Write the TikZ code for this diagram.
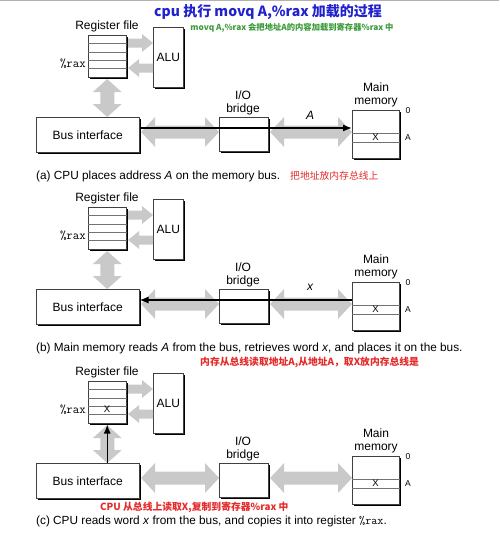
\documentclass[tikz,border=0pt]{standalone}
\usepackage{fontspec}
\setmainfont{Liberation Sans}
\newfontfamily\cjk{Noto Sans CJK SC}
\usetikzlibrary{arrows.meta,calc}
\definecolor{gfill}{HTML}{C9C9C9}
\definecolor{ttlblue}{HTML}{2222CC}
\definecolor{grn}{HTML}{3A9A3A}
\definecolor{rd}{HTML}{E52A2A}
\tikzset{
 box/.style={draw=black!75, line width=0.5pt, fill=white, inner sep=0pt, anchor=north west, font=\fontsize{12}{13}\selectfont},
 lbl/.style={inner sep=0pt, align=center, font=\fontsize{12}{13}\selectfont},
 smalllbl/.style={inner sep=0pt, font=\fontsize{8.5}{9}\selectfont},
 caption/.style={inner sep=0pt, anchor=west, font=\fontsize{11.8}{13}\selectfont},
 redtxt/.style={inner sep=0pt, anchor=west, text=rd, font=\fontsize{9.8}{11}\cjk\bfseries},
 rowline/.style={draw=black!55, line width=0.5pt},
 garrow/.style={fill=gfill, draw=none},
 blk/.style={draw=black, line width=1.3pt, -{Latex[length=9pt,width=7pt]}},
}
% horizontal double arrow between two named points on one row
\newcommand\ghd[2]{\path[garrow] (#1) -- ($(#1)+(14,-15)$) -- ($(#1)+(14,-6.5)$) -- ($(#2)+(-14,-6.5)$) -- ($(#2)+(-14,-15)$) -- (#2) -- ($(#2)+(-14,15)$) -- ($(#2)+(-14,6.5)$) -- ($(#1)+(14,6.5)$) -- ($(#1)+(14,15)$) -- cycle;}
% vertical double arrow, #1 top point, #2 bottom point
\newcommand\gvd[2]{\path[garrow] (#1) -- ($(#1)+(-14.5,13)$) -- ($(#1)+(-7,13)$) -- ($(#2)+(-7,-13)$) -- ($(#2)+(-14.5,-13)$) -- (#2) -- ($(#2)+(14.5,-13)$) -- ($(#2)+(7,-13)$) -- ($(#1)+(7,13)$) -- ($(#1)+(14.5,13)$) -- cycle;}
% single horizontal arrow from #1 (tail) to #2 (tip); #3 = +1 right, -1 left
\newcommand\ghs[3]{\path[garrow] (#1) -- ($(#1)+(0,-4.5)$) -- ($(#2)+(-11*#3,-4.5)$) -- ($(#2)+(-11*#3,-9)$) -- (#2) -- ($(#2)+(-11*#3,9)$) -- ($(#2)+(-11*#3,4.5)$) -- ($(#1)+(0,4.5)$) -- cycle;}
\newcommand\dsh[1]{\draw[line width=1.6pt,black] ([xshift=0.8pt,yshift=-2pt]#1.north east) -- ([xshift=0.8pt,yshift=-0.8pt]#1.south east) -- ([xshift=2pt,yshift=-0.8pt]#1.south west);}
\newcommand\basepanel[2]{%
\begin{scope}[yshift=-#1pt]
 \node[lbl] (rf#2) at (107,26) {Register file};
 \node[box, minimum width=38pt, minimum height=42pt] (reg#2) at (88,35) {};
 \foreach \k in {1,...,4}{\draw[rowline] ([yshift=-\k*8.4pt]reg#2.north west) -- ([yshift=-\k*8.4pt]reg#2.north east);}
 \node[anchor=east, inner sep=0pt, font=\fontsize{12.5}{13}\ttfamily] (rax#2) at (86,64) {\%rax};
 \node[box, minimum width=30pt, minimum height=60pt] (alu#2) at (153,27) {ALU};
 \node[box, minimum width=103pt, minimum height=35pt] (bus#2) at (36,117) {Bus interface};
 \node[box, minimum width=49pt, minimum height=34pt] (bridge#2) at (219,117) {};
 \node[lbl] (bl#2) at (243,102.5) {I/O\\bridge};
 \node[box, minimum width=47pt, minimum height=48pt] (mem#2) at (352,110) {};
 \draw[rowline] ([yshift=-23pt]mem#2.north west) -- ([yshift=-23pt]mem#2.north east);
 \draw[rowline] ([yshift=-32pt]mem#2.north west) -- ([yshift=-32pt]mem#2.north east);
 \node[inner sep=0pt, font=\fontsize{9.5}{10}\selectfont] (mx#2) at (375.5,137.5) {X};
 \node[lbl] (ml#2) at (376,94.5) {Main\\memory};
 \node[smalllbl] (z#2) at (408,111) {0};
 \node[smalllbl] (ad#2) at (408,137.5) {A};
 \dsh{reg#2}\dsh{alu#2}\dsh{bus#2}\dsh{bridge#2}\dsh{mem#2}
 \coordinate (b1#2) at ([xshift=1.6pt]bus#2.east |- 0,132);
 \coordinate (b2#2) at (bridge#2.west |- 0,132);
 \coordinate (b3#2) at ([xshift=1.6pt]bridge#2.east |- 0,132);
 \coordinate (b4#2) at (mem#2.west |- 0,132);
 \coordinate (v1#2) at ([yshift=-1.6pt]reg#2.south);
 \coordinate (v2#2) at (reg#2.south |- bus#2.north);
 \coordinate (s1#2) at ([xshift=1.6pt]reg#2.east |- 0,43);
 \coordinate (s2#2) at (alu#2.west |- 0,43);
 \coordinate (s3#2) at (alu#2.west |- 0,68);
 \coordinate (s4#2) at ([xshift=1.6pt]reg#2.east |- 0,68);
 \ghd{b1#2}{b2#2}
 \ghd{b3#2}{b4#2}
 \gvd{v1#2}{v2#2}
 \ghs{s1#2}{s2#2}{1}
 \ghs{s3#2}{s4#2}{-1}
\end{scope}}
\begin{document}
\begin{tikzpicture}[x=1pt,y=-1pt]
\useasboundingbox (0,0) rectangle (499,538);
\draw[gray!60, line width=0.8pt] (0,0.5) -- (499,0.5);
\node[inner sep=0pt, text=ttlblue, font=\fontsize{14}{15}\cjk\bfseries] (title) at (268,12) {cpu 执行 movq A,\%rax 加载的过程};
\node[inner sep=0pt, text=grn, font=\fontsize{8.3}{9}\cjk\bfseries] (sub) at (292,28) {movq A,\%rax 会把地址A的内容加载到寄存器\%rax 中};
% panel a
\basepanel{0}{a}
\draw[blk] (busa.east |- 0,128) -- (mema.west |- 0,128);
\node[lbl, font=\fontsize{12}{13}\selectfont\itshape] (lA) at (310,115) {A};
\node[caption] (capa) at (36,176) {(a) CPU places address \textit{A} on the memory bus.};
\node[redtxt, font=\fontsize{9.8}{11}\cjk] (reda) at (290,176) {把地址放内存总线上};
% panel b
\basepanel{172}{b}
\begin{scope}[yshift=-172pt]
\draw[blk] (memb.west |- 0,128) -- (busb.east |- 0,128);
\node[lbl, font=\fontsize{12}{13}\selectfont\itshape] (lx) at (310,115) {x};
\end{scope}
\node[caption] (capb) at (36,348) {(b) Main memory reads \textit{A} from the bus, retrieves word \textit{x}, and places it on the bus.};
\node[redtxt] (redb) at (200,362) {内存从总线读取地址A,从地址A，取X放内存总线是};
% panel c
\basepanel{346}{c}
\begin{scope}[yshift=-346pt]
\node[inner sep=0pt, font=\fontsize{9.5}{10}\selectfont] (rx) at (107,63.5) {X};
\draw[blk, shorten >=1pt] (busc.north -| regc.south) -- (regc.south);
\end{scope}
\node[redtxt] (redc) at (100,507) {CPU 从总线上读取X,复制到寄存器\%rax 中};
\node[caption] (capc) at (36,521) {(c) CPU reads word \textit{x} from the bus, and copies it into register \texttt{\%rax}.};
\end{tikzpicture}
\end{document}
